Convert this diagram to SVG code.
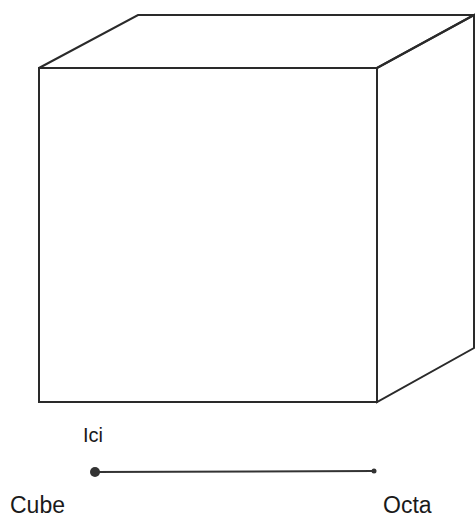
<svg xmlns="http://www.w3.org/2000/svg" width="475" height="520" viewBox="0 0 475 520">
<style>
.edge{fill:none;stroke:#2a2a2a;stroke-width:2;stroke-linejoin:miter}
.lbl{font-family:"Liberation Sans",Arial,sans-serif;fill:#1a1a1a}
</style>
<rect width="475" height="520" fill="#ffffff"/>
<g id="cube">
<polygon class="edge" points="39,68 377,68 377,402 39,402"/>
<polygon class="edge" points="39,68 138,15 474,15 377,68"/>
<polygon class="edge" points="377,68 474,15 474,348 377,402"/>
</g>
<g id="connectors">
<line x1="95" y1="472" x2="374" y2="471" stroke="#333" stroke-width="2"/>
<circle cx="95" cy="472" r="5" fill="#333"/>
<circle cx="374" cy="471" r="2.5" fill="#333"/>
</g>
<g id="label-ici"><text class="lbl" x="83" y="442" font-size="20">Ici</text></g>
<g id="label-cube"><text class="lbl" x="10" y="513" font-size="23">Cube</text></g>
<g id="label-octa"><text class="lbl" x="383" y="513" font-size="23">Octa</text></g>
</svg>
